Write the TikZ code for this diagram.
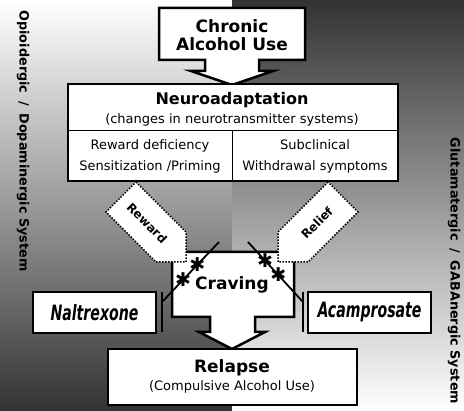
\documentclass[tikz,border=0pt]{standalone}
\usepackage{fontspec}
\usepackage{graphicx}
\setmainfont{DejaVu Sans}
\newfontfamily\drugfont{DejaVu Sans Condensed}
\definecolor{bgdark}{gray}{0.2}
\newcommand{\drugname}[1]{\scalebox{0.98}[1.32]{#1}}

\begin{document}
\begin{tikzpicture}[x=1pt,y=-1pt,
  box/.style={draw=black,line width=2.5pt,fill=white,line join=miter},
  hintarrow/.style={draw=black,line width=1.5pt,dash pattern=on 1.5pt off 1.5pt,fill=white},
  drug/.style={draw=black,line width=2.5pt,fill=white,inner sep=0pt,minimum width=123pt,minimum height=41pt,font=\drugfont\bfseries\itshape\fontsize{16}{18}\selectfont},
  inhib/.style={line width=1.8pt},
  barline/.style={line width=2.5pt},
  starmark/.style={inner sep=0pt,font=\fontsize{19}{19}\selectfont},
  titletext/.style={font=\bfseries\fontsize{17}{18}\selectfont,align=center,inner sep=0pt},
  smalltext/.style={font=\fontsize{13}{21}\selectfont,align=center,inner sep=0pt},
  hinttext/.style={font=\bfseries\fontsize{12}{12}\selectfont,inner sep=0pt},
  sidelabel/.style={font=\bfseries\fontsize{12.8}{14}\selectfont,rotate=-90,inner sep=0pt}]
\useasboundingbox (0,0) rectangle (464,411);
\shade[top color=white,bottom color=bgdark] (0,0) rectangle (232,411);
\shade[top color=bgdark,bottom color=white] (232,0) rectangle (464,411);

\node[sidelabel] (opioid) at (23,141) {Opioidergic\hspace{0.6em}/\hspace{0.6em}Dopaminergic System};
\node[sidelabel] (gluta) at (454,271) {Glutamatergic\hspace{0.6em}/\hspace{0.6em}GABAnergic System};

\draw[box] (159,8) -- (305,8) -- (305,60) -- (259,60) -- (259,71) -- (273,71) -- (232,85)
  -- (191,71) -- (205,71) -- (205,60) -- (159,60) -- cycle;
\node[titletext] (chronic) at (232,35) {Chronic\\Alcohol Use};

\node[box,minimum width=330pt,minimum height=97pt,inner sep=0pt] (neuro) at (233,132.5) {};
\draw[line width=1pt] (neuro.west |- 0,131) -- (neuro.east |- 0,131);
\draw[line width=1pt] (232,131) -- (232,181);
\node[titletext,font=\bfseries\fontsize{16}{18}\selectfont] (neurotitle) at (232,100) {Neuroadaptation};
\node[smalltext] (changes) at (232,120) {(changes in neurotransmitter systems)};
\node[smalltext] (rewarddef) at (150,156.5) {Reward deficiency\\Sensitization /Priming};
\node[smalltext] (subclin) at (315,156.5) {Subclinical\\Withdrawal symptoms};

\draw[box] (172,252) -- (294,252) -- (294,317) -- (255,317) -- (255,332) -- (265,332) -- (232,349)
  -- (199,332) -- (210,332) -- (210,317) -- (172,317) -- cycle;
\node[titletext] (craving) at (232,285) {Craving};

\node[box,minimum width=249pt,minimum height=56pt,inner sep=0pt] (relapse) at (232.5,377) {};
\node[titletext] (relapsetitle) at (232,368) {Relapse};
\node[smalltext] (compulsive) at (232,387) {(Compulsive Alcohol Use)};

\draw[hintarrow] (136,182) -- (186,232) -- (186,262) -- (156,262) -- (106,212) -- cycle;
\node[hinttext,rotate=-45] (reward) at (147,223) {Reward};
\draw[hintarrow] (328,182) -- (278,232) -- (278,262) -- (308,262) -- (358,212) -- cycle;
\node[hinttext,rotate=45] (relief) at (317,223) {Relief};

\node[drug] (naltrexone) at (94.5,312.5) {\drugname{Naltrexone}};
\node[drug] (acamprosate) at (369.5,312.5) {\drugname{Acamprosate}};

\coordinate (naltop) at (219,242);
\coordinate (nalend) at (162,302);
\coordinate (acatop) at (248,242);
\coordinate (acaend) at (303,302);
\draw[barline] (162,292) -- (162,332);
\draw[barline] (303,292) -- (303,332);
\draw[inhib] (naltop) -- (nalend)
  node[starmark,pos=.38] (nalstar1) {✱}
  node[starmark,pos=.63] (nalstar2) {✱};
\draw[inhib] (acatop) -- (acaend)
  node[starmark,pos=.31] (acastar1) {✱}
  node[starmark,pos=.55] (acastar2) {✱};
\end{tikzpicture}
\end{document}
